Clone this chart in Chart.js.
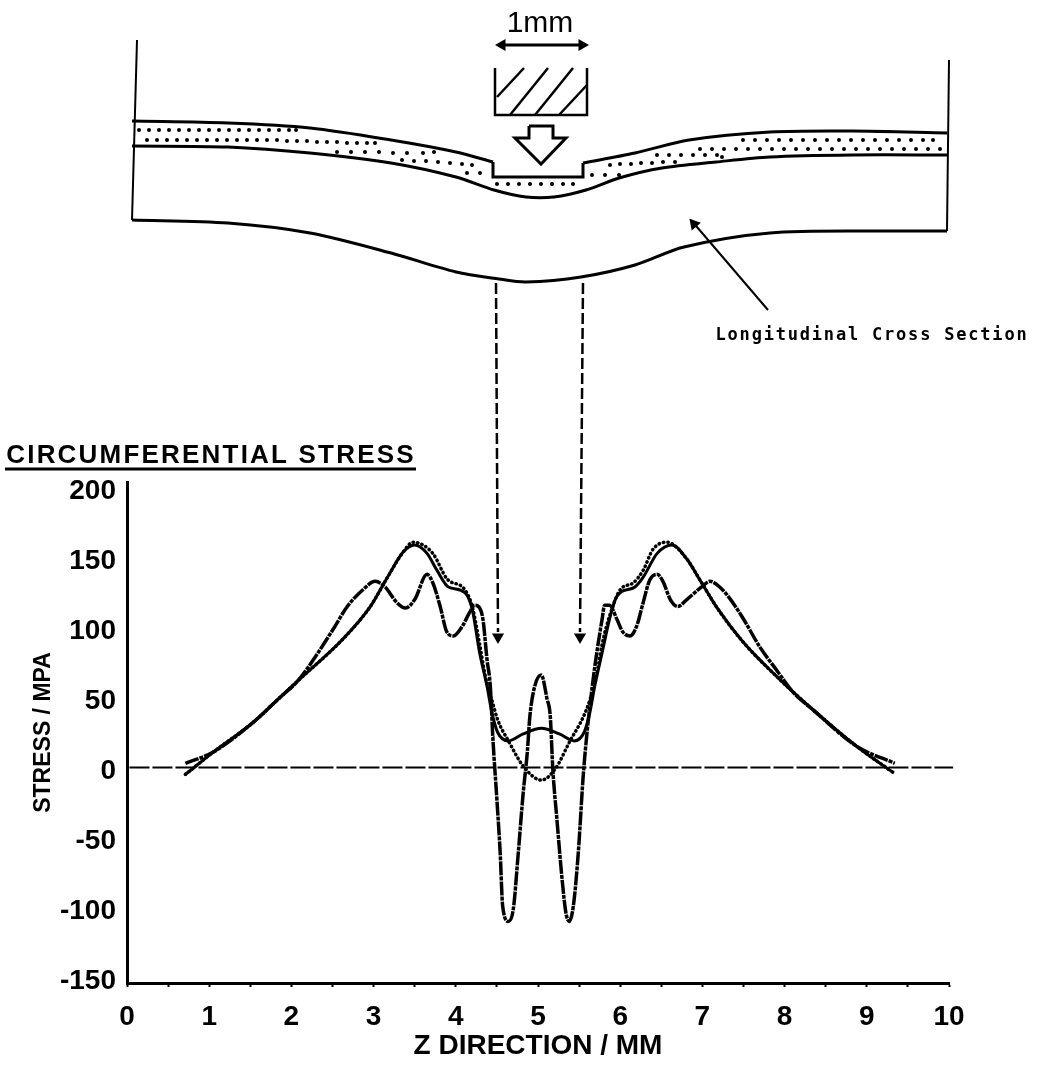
<!DOCTYPE html>
<html>
<head>
<meta charset="utf-8">
<title>Circumferential stress</title>
<script src="https://cdn.jsdelivr.net/npm/chart.js@4/dist/chart.umd.min.js"></script>
<style>
  html, body { margin: 0; background: #fff; }
  canvas { position: absolute; left: 0; top: 0; }
</style>
</head>
<body>
<canvas id="sketch" width="1040" height="1066"></canvas>
<canvas id="stress" width="1040" height="1066"></canvas>
<script>
// stress curves, z in mm, stress in MPa
const solidZ = [0.71, 1.05, 1.53, 1.86, 2.08, 2.63, 2.96, 3.16, 3.36, 3.50, 3.65, 3.77, 3.91, 4.11, 4.20, 4.29, 4.38, 4.44, 4.51, 4.64, 4.82, 5.04, 5.26, 5.44, 5.56, 5.63, 5.69, 5.78, 5.87, 5.94, 6.00, 6.18, 6.28, 6.45, 6.63, 6.81, 6.97, 7.18, 7.49, 7.94, 8.35, 8.88, 9.33];
const solidStress = [-5, 11, 32, 50, 62, 92, 115, 135, 154, 159, 153, 141, 129, 125, 113, 82, 58, 39, 25, 19, 24, 28, 24, 19, 25, 39, 58, 82, 106, 120, 125, 129, 136, 153, 159, 149, 134, 114, 90, 63, 41, 15, -4];

const dottedZ = [0.71, 1.05, 1.53, 1.86, 2.08, 2.63, 2.96, 3.16, 3.36, 3.48, 3.72, 3.89, 4.11, 4.20, 4.29, 4.36, 4.44, 4.51, 4.64, 4.82, 5.04, 5.21, 5.39, 5.55, 5.63, 5.71, 5.78, 5.87, 6.00, 6.16, 6.28, 6.40, 6.57, 6.81, 6.97, 7.18, 7.49, 7.94, 8.35, 8.88, 9.33];
const dottedStress = [-5, 11, 32, 50, 62, 92, 115, 135, 154, 161, 153, 135, 127, 115, 88, 65, 48, 34, 19, 1, -9, -1, 19, 36, 48, 65, 88, 108, 127, 132, 141, 156, 161, 149, 134, 114, 90, 63, 41, 15, -4];

const dashZ = [0.71, 1.05, 1.53, 1.86, 2.08, 2.29, 2.51, 2.68, 2.87, 3.02, 3.14, 3.28, 3.39, 3.50, 3.65, 3.72, 3.81, 3.89, 3.97, 4.08, 4.17, 4.23, 4.29, 4.33, 4.38, 4.42, 4.45, 4.50, 4.54, 4.57, 4.64, 4.70, 4.76, 4.82, 4.87, 4.90, 4.96, 5.04, 5.11, 5.15, 5.18, 5.23, 5.29, 5.34, 5.38, 5.43, 5.49, 5.55, 5.60, 5.66, 5.72, 5.78, 5.81, 5.87, 5.96, 6.03, 6.12, 6.20, 6.28, 6.36, 6.45, 6.52, 6.61, 6.70, 6.81, 6.99, 7.09, 7.21, 7.33, 7.49, 7.70, 7.91, 8.10, 8.35, 8.88, 9.34];
const dashStress = [3, 11, 32, 50, 62, 79, 99, 115, 127, 133, 129, 118, 114, 120, 138, 132, 115, 97, 94, 101, 111, 116, 114, 106, 77, 58, 22, -23, -61, -99, -110, -101, -61, -18, 11, 36, 58, 66, 49, 36, -1, -37, -78, -104, -110, -99, -61, -6, 27, 58, 84, 106, 116, 116, 106, 97, 94, 101, 118, 134, 138, 133, 120, 115, 120, 129, 133, 129, 121, 107, 86, 69, 54, 41, 15, 3];

const zeroZ = [0.03, 10.05];
const zeroStress = [0, 0];

const stressTicks = [200, 150, 100, 50, 0, -50, -100, -150];

// sketch outlines (x, y from top left)
const bandTopLeft = [[132, 121], [228, 123], [310, 128], [391, 140], [456, 152], [493, 162]];
const punchRecess = [[493, 162], [493, 177], [583, 177], [583, 163]];
const bandTopRight = [[583, 163], [635, 153], [689, 140], [770, 132], [852, 131], [947, 133]];
const bandBottom = [[132, 146], [228, 147], [310, 153], [391, 163], [456, 177], [494, 190], [526, 197], [554, 197], [586, 190], [619, 178], [662, 168], [716, 162], [770, 157], [852, 155], [947, 155]];
const lowerSurface = [[132, 220], [228, 223], [310, 233], [391, 253], [456, 272], [499, 279], [526, 282], [581, 277], [635, 265], [684, 247], [770, 233], [879, 231], [947, 231]];
const leftWall = [[137, 40], [132, 220]];
const rightWall = [[949, 60], [947, 231]];
const punchBox = [[495, 68], [495, 115], [587, 115], [587, 68]];
const hatchA = [[497, 97], [524, 68]];
const hatchB = [[510, 115], [548, 68]];
const hatchC = [[535, 115], [573, 68]];
const hatchD = [[559, 115], [587, 85]];
const widthArrow = [[498, 45], [586, 45]];
const loadArrow = [[529, 126], [553, 126], [553, 138], [566, 138], [541, 164], [515, 138], [529, 138], [529, 126]];
const leaderLine = [[768, 310], [691, 220]];
const guideLeft = [[496, 283], [498, 632]];
const guideRight = [[583, 283], [580, 632]];
const titleRule = [[5, 469], [416, 469]];

const bandDots = [
  [139, 130], [149, 130], [159, 130], [169, 130], [179, 130], [189, 130], [199, 130], [209, 130], [219, 130], [229, 130], [239, 130], [249, 130], [259, 130], [269, 130], [279, 130], [289, 130], [296, 130],
  [147, 140], [157, 140], [167, 140], [177, 140], [187, 140], [197, 140], [207, 140], [217, 140], [227, 140], [237, 140], [247, 140], [257, 140], [267, 140], [277, 140], [287, 141], [297, 141], [307, 141], [317, 142], [327, 142], [337, 142], [347, 143], [357, 143], [367, 143], [375, 143],
  [337, 152], [351, 152], [365, 152], [379, 152], [393, 153], [407, 153], [423, 153],
  [402, 160], [414, 161], [426, 161], [438, 162], [450, 163], [462, 164], [472, 165], [434, 152], [467, 173], [480, 173],
  [497, 184], [508, 184], [519, 184], [530, 184], [541, 184], [552, 184], [563, 184], [573, 184],
  [592, 175], [605, 175], [619, 175],
  [610, 165], [620, 164], [631, 164], [641, 163], [652, 163], [663, 162], [675, 162],
  [657, 155], [669, 155], [681, 155], [693, 155], [705, 155], [717, 155], [722, 157],
  [700, 149], [712, 149], [724, 149], [736, 149], [748, 149], [760, 149], [772, 149], [784, 149], [796, 149], [808, 149], [820, 149], [832, 149], [844, 149], [856, 149], [868, 149], [880, 149], [892, 149], [904, 149], [916, 149], [928, 149], [940, 149],
  [743, 140], [755, 140], [767, 140], [779, 140], [791, 140], [803, 140], [815, 140], [827, 140], [839, 140], [851, 140], [863, 140], [875, 140], [887, 140], [899, 140], [911, 140], [923, 140], [933, 140]
];

const pairs = (xs, ys) => xs.map((x, i) => ({x: x, y: ys[i]}));
const points = list => list.map(p => ({x: p[0], y: p[1]}));

function outline(list, width, tension) {
  return {
    data: points(list),
    showLine: true,
    borderColor: '#000',
    borderWidth: width,
    tension: tension || 0,
    pointRadius: 0,
    clip: false
  };
}

function arrowHead(x, y, angle, size) {
  return {
    data: [{x: x, y: y}],
    showLine: false,
    pointStyle: 'triangle',
    pointRotation: angle,
    pointRadius: size,
    backgroundColor: '#000',
    borderColor: '#000',
    borderWidth: 0
  };
}

const sketchNotes = [
  {text: '1mm', x: 540, y: 32, font: '30px "Liberation Sans"', spacing: '0px'},
  {text: 'Longitudinal Cross Section', x: 872, y: 340, font: 'bold 17px "DejaVu Sans Mono"', spacing: '1.8px'},
  {text: 'CIRCUMFERENTIAL STRESS', x: 211, y: 463, font: 'bold 26px "Liberation Sans"', spacing: '2.2px'}
];

const notesPlugin = {
  id: 'notes',
  afterDraw(chart) {
    const ctx = chart.ctx;
    ctx.save();
    ctx.fillStyle = '#000';
    ctx.textAlign = 'center';
    sketchNotes.forEach(n => {
      ctx.font = n.font;
      ctx.letterSpacing = n.spacing;
      ctx.fillText(n.text, chart.scales.x.getPixelForValue(n.x), chart.scales.y.getPixelForValue(n.y));
    });
    ctx.restore();
  }
};

const dashedGuide = list => Object.assign(outline(list, 2.5), {borderDash: [11, 4]});

new Chart(document.getElementById('sketch').getContext('2d'), {
  type: 'scatter',
  plugins: [notesPlugin],
  data: {
    datasets: [
      outline(bandTopLeft, 3, 0.3),
      outline(punchRecess, 3),
      outline(bandTopRight, 3, 0.3),
      outline(bandBottom, 3, 0.3),
      outline(lowerSurface, 3, 0.3),
      outline(leftWall, 2),
      outline(rightWall, 2),
      outline(punchBox, 2.5),
      outline(hatchA, 2.5),
      outline(hatchB, 2.5),
      outline(hatchC, 2.5),
      outline(hatchD, 2.5),
      outline(widthArrow, 3),
      outline(loadArrow, 3),
      outline(leaderLine, 2),
      dashedGuide(guideLeft),
      dashedGuide(guideRight),
      outline(titleRule, 3),
      arrowHead(502, 45, 270, 7),
      arrowHead(582, 45, 90, 7),
      arrowHead(694, 224, 319, 7),
      arrowHead(498, 637, 180, 7),
      arrowHead(580, 637, 180, 7),
      {data: points(bandDots), showLine: false, pointRadius: 2, backgroundColor: '#000', borderWidth: 0}
    ]
  },
  options: {
    responsive: false,
    animation: false,
    layout: {padding: 0, autoPadding: false},
    plugins: {legend: {display: false}, tooltip: {enabled: false}},
    scales: {
      x: {display: false, min: 0, max: 1040},
      y: {display: false, min: 0, max: 1066, reverse: true}
    }
  }
});

const axisFont = {family: '"Liberation Sans"', size: 28, weight: 'bold'};

new Chart(document.getElementById('stress').getContext('2d'), {
  type: 'scatter',
  data: {
    datasets: [
      {
        label: 'dotted',
        data: pairs(dottedZ, dottedStress),
        showLine: true, borderColor: '#000', borderWidth: 3.5, borderDash: [0.5, 4], borderCapStyle: 'round',
        cubicInterpolationMode: 'monotone', pointRadius: 0, clip: false
      },
      {
        label: 'solid',
        data: pairs(solidZ, solidStress),
        showLine: true, borderColor: '#000', borderWidth: 3,
        cubicInterpolationMode: 'monotone', pointRadius: 0, clip: false
      },
      {
        label: 'dash-dot',
        data: pairs(dashZ, dashStress),
        showLine: true, borderColor: '#000', borderWidth: 3.5, borderDash: [14, 1, 4, 1],
        cubicInterpolationMode: 'monotone', pointRadius: 0, clip: false
      },
      {
        label: 'zero',
        data: pairs(zeroZ, zeroStress),
        showLine: true, borderColor: '#000', borderWidth: 2, borderDash: [20, 3],
        pointRadius: 0, clip: false
      }
    ]
  },
  options: {
    responsive: false,
    animation: false,
    layout: {padding: {top: 482, right: 91, left: 0, bottom: 0}},
    plugins: {legend: {display: false}, tooltip: {enabled: false}},
    scales: {
      x: {
        type: 'linear',
        min: 0,
        max: 10,
        afterFit: s => { s.height = 83; },
        border: {display: true, color: '#000', width: 3},
        grid: {display: true, drawOnChartArea: false, drawTicks: true, tickLength: 4, tickWidth: 2, tickColor: '#000'},
        ticks: {
          stepSize: 0.5,
          autoSkip: false,
          maxRotation: 0,
          padding: 13,
          color: '#000',
          font: axisFont,
          callback: v => Number.isInteger(v) ? String(v) : ''
        },
        title: {
          display: true,
          text: 'Z DIRECTION / MM',
          color: '#000',
          font: {family: '"Liberation Sans"', size: 28, weight: 'bold'},
          padding: {top: 0, bottom: 3}
        }
      },
      y: {
        type: 'linear',
        min: -154,
        max: 204,
        afterFit: s => { s.width = 127; },
        afterBuildTicks: s => { s.ticks = stressTicks.map(v => ({value: v})); },
        border: {display: true, color: '#000', width: 3},
        grid: {display: false},
        ticks: {
          padding: 3,
          labelOffset: 4,
          color: '#000',
          font: axisFont,
          callback: v => String(v)
        },
        title: {
          display: true,
          text: 'STRESS / MPA',
          color: '#000',
          font: {family: '"Liberation Sans"', size: 23, weight: 'bold'},
          padding: {top: 30, bottom: 0}
        }
      }
    }
  }
});
</script>
</body>
</html>
